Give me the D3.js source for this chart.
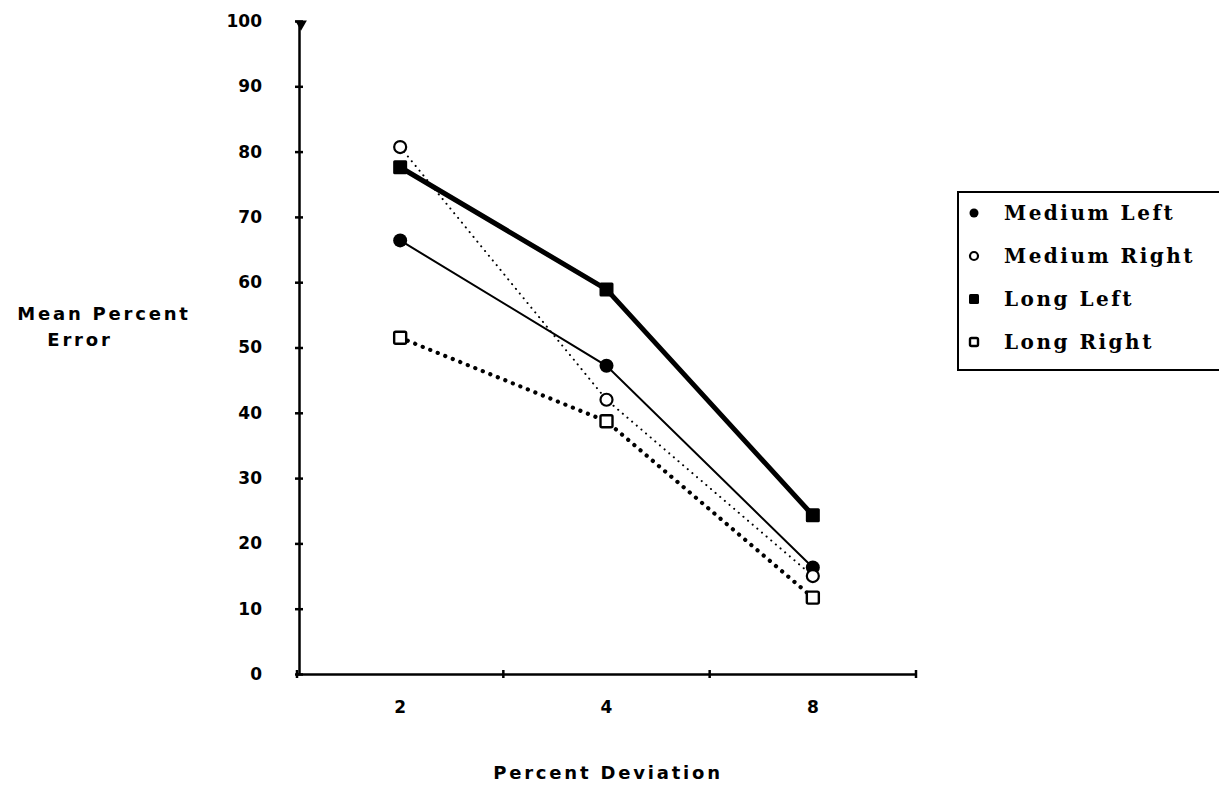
<!DOCTYPE html>
<html>
<head>
<meta charset="utf-8">
<script src="https://cdn.jsdelivr.net/npm/d3@7"></script>
<style>
  body { margin: 0; background: #fff; }
  svg { display: block; }
</style>
</head>
<body>
<div id="chart"></div>
<script>
let categories = ['2', '4', '8']
let yTicks = [0, 10, 20, 30, 40, 50, 60, 70, 80, 90, 100]
let mediumLeft = [66.4, 47.2, 16.3]
let mediumRight = [80.7, 42.0, 15.0]
let longLeft = [77.6, 58.9, 24.3]
let longRight = [51.5, 38.7, 11.7]
let seriesNames = ['Medium Left', 'Medium Right', 'Long Left', 'Long Right']

let width = 1219
let height = 789

let svg = d3.select('#chart').append('svg')
  .attr('width', width)
  .attr('height', height)

let x = d3.scaleBand().domain(categories).range([297, 916]).paddingInner(0).paddingOuter(0)
let y = d3.scaleLinear().domain([0, 100]).range([674, 21])

let series = [
  {name: seriesNames[0], values: mediumLeft, marker: 'circle', filled: true, width: 2, dash: null},
  {name: seriesNames[1], values: mediumRight, marker: 'circle', filled: false, width: 2, dash: '0.1,6'},
  {name: seriesNames[2], values: longLeft, marker: 'square', filled: true, width: 5, dash: null},
  {name: seriesNames[3], values: longRight, marker: 'square', filled: false, width: 4.2, dash: '0.1,8'}
]

// axes
let yAxis = d3.axisLeft(y).tickValues(yTicks).tickSize(0).tickPadding(37)
let gy = svg.append('g').attr('transform', 'translate(299,0)').call(yAxis)
gy.select('.domain').attr('stroke', '#000').attr('stroke-width', 2.5)
gy.selectAll('.tick text')
  .attr('font-family', 'DejaVu Sans, sans-serif')
  .attr('font-weight', 'bold')
  .attr('font-size', 17)
  .attr('fill', '#000')
gy.selectAll('.tick').append('line')
  .attr('x1', -4).attr('x2', 4).attr('stroke', '#000').attr('stroke-width', 2.5)

let xAxis = d3.axisBottom(x).tickSize(0).tickPadding(27)
let gx = svg.append('g').attr('transform', 'translate(0,674)').call(xAxis)
gx.select('.domain').attr('stroke', '#000').attr('stroke-width', 2.5)
gx.selectAll('.tick text')
  .attr('font-family', 'DejaVu Sans, sans-serif')
  .attr('font-weight', 'bold')
  .attr('font-size', 17)
  .attr('fill', '#000')
// tick marks at the band edges
let edges = categories.map(c => x(c) + x.bandwidth()).concat([x(categories[0])])
gx.selectAll('.edge').data(edges).enter().append('line')
  .attr('x1', d => d).attr('x2', d => d)
  .attr('y1', -4).attr('y2', 4)
  .attr('stroke', '#000').attr('stroke-width', 2.5)
svg.append('path')
  .attr('d', d3.symbol(d3.symbolTriangle, 60)())
  .attr('transform', 'translate(301,24) rotate(180)')
  .attr('fill', '#000')

// lines
let cx = c => x(c) + x.bandwidth() / 2
let line = d3.line().x((d, i) => cx(categories[i])).y(d => y(d))
series.forEach(s => {
  svg.append('path')
    .datum(s.values)
    .attr('d', line)
    .attr('fill', 'none')
    .attr('stroke', '#000')
    .attr('stroke-width', s.width)
    .attr('stroke-linecap', 'round')
    .attr('stroke-dasharray', s.dash)
})

function drawMarker(g, s, px, py, size) {
  if (s.marker === 'circle') {
    g.append('circle').attr('cx', px).attr('cy', py).attr('r', size / 2)
      .attr('fill', s.filled ? '#000' : '#fff')
      .attr('stroke', '#000').attr('stroke-width', s.filled ? 0 : 2.2)
  } else {
    g.append('rect').attr('x', px - size / 2).attr('y', py - size / 2)
      .attr('width', size).attr('height', size).attr('rx', 1.5)
      .attr('fill', s.filled ? '#000' : '#fff')
      .attr('stroke', '#000').attr('stroke-width', s.filled ? 0 : 2.4)
  }
}

let gm = svg.append('g')
series.forEach(s => {
  s.values.forEach((v, i) => {
    let size = s.filled ? 14 : 12
    drawMarker(gm, s, cx(categories[i]), y(v), size)
  })
})

// legend
let lg = svg.append('g')
lg.append('rect')
  .attr('x', 958).attr('y', 192).attr('width', 300).attr('height', 178)
  .attr('fill', '#fff').attr('stroke', '#000').attr('stroke-width', 2)
series.forEach((s, i) => {
  let ly = 213 + i * 43
  drawMarker(lg, s, 974, ly, s.filled ? (s.marker === 'circle' ? 9 : 10) : 8)
  lg.append('text')
    .attr('x', 1004).attr('y', ly + 7)
    .attr('font-family', 'DejaVu Serif, serif')
    .attr('font-weight', 'bold')
    .attr('font-size', 20)
    .attr('letter-spacing', 2.5)
    .text(s.name)
})

// axis titles
let titleFont = t => t
  .attr('text-anchor', 'middle')
  .attr('font-family', 'DejaVu Sans, sans-serif')
  .attr('font-weight', 'bold')
  .attr('font-size', 18)
  .attr('letter-spacing', 2.8)
svg.append('text').attr('x', 104).attr('y', 320).call(titleFont).text('Mean Percent')
svg.append('text').attr('x', 80).attr('y', 346).call(titleFont).text('Error')
svg.append('text').attr('x', 608).attr('y', 779).call(titleFont).text('Percent Deviation')
</script>
</body>
</html>
